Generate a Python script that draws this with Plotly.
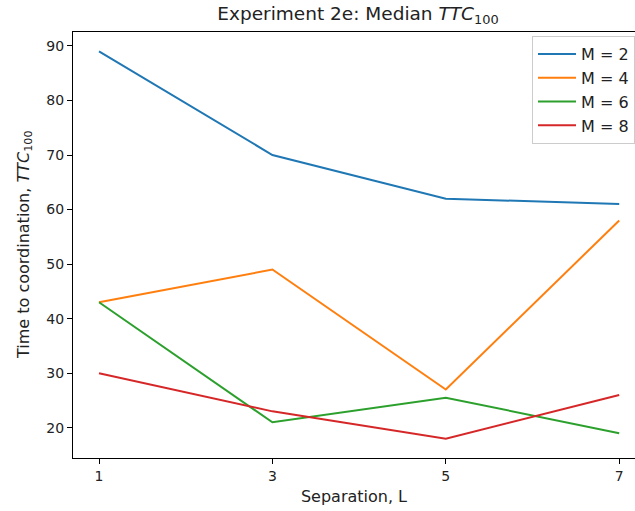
import plotly.graph_objects as go

separation = [1, 3, 5, 7]
m_labels = ["M = 2", "M = 4", "M = 6", "M = 8"]
ttc_m2 = [89, 70, 62, 61]
ttc_m4 = [43, 49, 27, 58]
ttc_m6 = [43, 21, 25.5, 19]
ttc_m8 = [30, 23, 18, 26]
series = [ttc_m2, ttc_m4, ttc_m6, ttc_m8]
colors = ["#1f77b4", "#ff7f0e", "#2ca02c", "#d62728"]

fig = go.Figure()
for name, vals, c in zip(m_labels, series, colors):
    fig.add_trace(go.Scatter(x=separation, y=vals, mode="lines", name=name,
                             line=dict(color=c, width=2)))

W, H = 635, 511
left, top, bottom = 73, 32, 53
px_per_x = 86.7
xr0 = 0.7
xr1 = xr0 + (W - left) / px_per_x
plot_w = W - left
plot_h = H - top - bottom

font = dict(family="DejaVu Sans", size=14, color="#222222")
fig.update_layout(
    width=W, height=H,
    margin=dict(l=left, r=0, t=top, b=bottom, autoexpand=False),
    paper_bgcolor="white", plot_bgcolor="white",
    font=font,
    title=dict(text="Experiment 2e: Median <i>TTC</i><sub>100</sub>",
               x=358 / W, xref="container", xanchor="center",
               y=1 - 14 / H, yanchor="middle", yref="container",
               font=dict(family="DejaVu Sans", size=18.5, color="#222222")),
    xaxis=dict(range=[xr0, xr1], tickvals=separation, ticktext=[str(v) for v in separation],
               showgrid=False, zeroline=False, showline=True, linecolor="black", linewidth=1,
               mirror=True, ticks="outside", ticklen=5, tickcolor="black", automargin=False,
               title=dict(text="Separation, L", standoff=8, font=dict(size=16))),
    yaxis=dict(range=[14.45, 92.55], tickvals=[20, 30, 40, 50, 60, 70, 80, 90],
               showgrid=False, zeroline=False, showline=True, linecolor="black", linewidth=1,
               ticks="outside", ticklen=5, tickcolor="black", automargin=False),
    legend=dict(x=(532 - left) / plot_w, xanchor="left",
                y=1 - 4 / plot_h, yanchor="top",
                bordercolor="#cccccc", borderwidth=1, bgcolor="rgba(255,255,255,0.8)",
                font=dict(family="DejaVu Sans", size=16, color="#222222"),
                itemwidth=38, tracegroupgap=4),
    showlegend=True,
)

fig.add_annotation(text="Time to coordination, <i>TTC</i><sub>100</sub>",
                   xref="paper", yref="paper", x=(24 - left) / plot_w, y=0.5,
                   xanchor="center", yanchor="middle", textangle=-90, showarrow=False,
                   font=dict(family="DejaVu Sans", size=16, color="#222222"))

fig.write_html("out.html", config={"displayModeBar": False},
               post_script="document.body.style.margin='0';document.body.style.padding='0';")
